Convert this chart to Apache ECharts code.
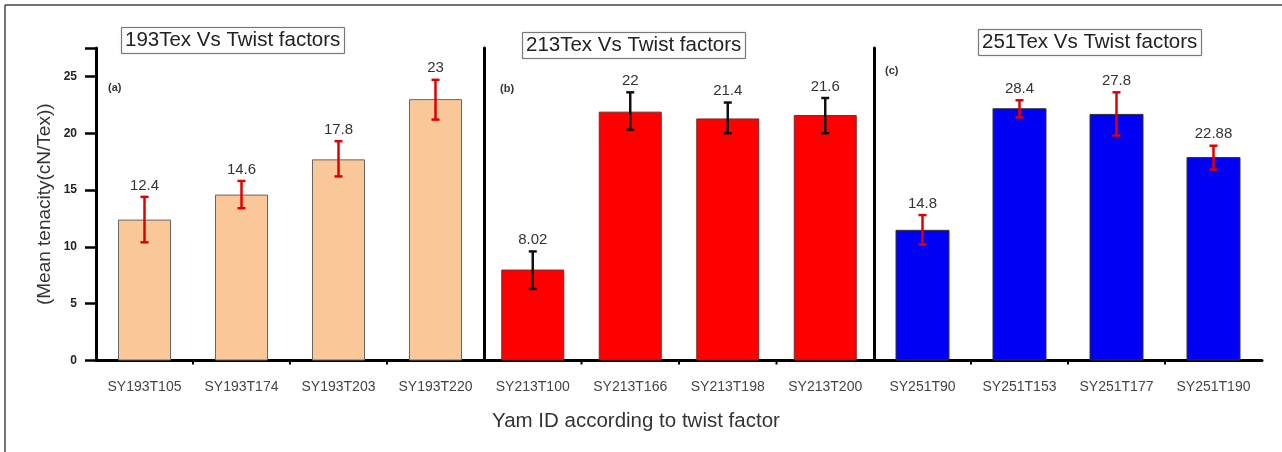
<!DOCTYPE html>
<html>
<head>
<meta charset="utf-8">
<script src="https://cdn.jsdelivr.net/npm/echarts@6/dist/echarts.min.js"></script>
<style>
html,body{margin:0;padding:0;background:#fff;}
#chart{width:1282px;height:452px;}
</style>
</head>
<body>
<div id="chart"></div>
<script>
// ---- data ----
const catsA = ['SY193T105','SY193T174','SY193T203','SY193T220'];
const catsB = ['SY213T100','SY213T166','SY213T198','SY213T200'];
const catsC = ['SY251T90','SY251T153','SY251T177','SY251T190'];
const valsA = [12.4, 14.6, 17.7, 23.0];
const valsB = [8.0, 21.9, 21.3, 21.6];
const valsC = [11.5, 22.2, 21.7, 17.9];
const errLowA = [10.4, 13.4, 16.2, 21.2];
const errHighA = [14.4, 15.8, 19.3, 24.7];
const errLowB = [6.3, 20.3, 20.0, 20.0];
const errHighB = [9.6, 23.6, 22.7, 23.1];
const errLowC = [10.2, 21.4, 19.8, 16.8];
const errHighC = [12.8, 22.9, 23.6, 18.9];
const labelsA = ['12.4','14.6','17.8','23'];
const labelsB = ['8.02','22','21.4','21.6'];
const labelsC = ['14.8','28.4','27.8','22.88'];
const titles = ['193Tex Vs Twist factors','213Tex Vs Twist factors','251Tex Vs Twist factors'];
const yTicks = [0,5,10,15,20,25];

const chart = echarts.init(document.getElementById('chart'), null, {renderer:'canvas'});
const FONT = '"Liberation Sans", Arial, sans-serif';

function errSeries(idx, lows, highs, labels, color){
  return {
    type:'custom', xAxisIndex:idx, yAxisIndex:idx, z:10,
    data: lows.map((l,i)=>[i,l,highs[i]]),
    renderItem:function(params, api){
      const x = api.value(0);
      const lo = api.coord([x, api.value(1)]);
      const hi = api.coord([x, api.value(2)]);
      const cw = 4;
      const st = {stroke:color, lineWidth:2.5};
      return {type:'group', children:[
        {type:'line', shape:{x1:lo[0],y1:lo[1],x2:hi[0],y2:hi[1]}, style:st},
        {type:'line', shape:{x1:lo[0]-cw,y1:lo[1],x2:lo[0]+cw,y2:lo[1]}, style:st},
        {type:'line', shape:{x1:hi[0]-cw,y1:hi[1],x2:hi[0]+cw,y2:hi[1]}, style:st},
        {type:'text', x:hi[0], y:hi[1]-4, style:{text:labels[params.dataIndex], fill:'#333', font:'15px '+FONT, align:'center', verticalAlign:'bottom'}}
      ]};
    },
    encode:{x:0,y:[1,2]}
  };
}

// tiny boundary ticks between categories
function boundarySeries(idx, n){
  return {
    type:'custom', xAxisIndex:idx, yAxisIndex:idx, z:5, silent:true,
    data: Array.from({length:n-1}, (_,i)=>[i]),
    renderItem:function(params, api){
      const c0 = api.coord([api.value(0), 0]);
      const c1 = api.coord([api.value(0)+1, 0]);
      const xm = (c0[0]+c1[0])/2;
      return {type:'line', shape:{x1:xm,y1:c0[1],x2:xm,y2:c0[1]+4}, style:{stroke:'#000', lineWidth:2}};
    },
    encode:{x:0}
  };
}

const grids = [
  {left:96, width:388, top:48, bottom:91.5},
  {left:484, width:390, top:48, bottom:91.5},
  {left:874, width:388, top:48, bottom:91.5}
];
const cats = [catsA, catsB, catsC];

const xAxes = cats.map((c,i)=>({
  type:'category', gridIndex:i, data:c,
  axisLine:{lineStyle:{color:'#000', width:3}},
  axisTick:{alignWithLabel:true, length:8, lineStyle:{color:'#000', width:3}},
  axisLabel:{color:'#444', fontSize:14, fontFamily:FONT, margin:20, interval:0}
}));
const yAxes = [0,1,2].map(i=>({
  type:'value', gridIndex:i, min:0, max:27.5, interval:5,
  splitLine:{show:false},
  axisLine:{show:true, lineStyle:{color:'#000', width:3}},
  axisTick:{show:i===0, length:11, lineStyle:{color:'#000', width:2.5}},
  axisLabel:{show:i===0, color:'#222', fontSize:12, fontWeight:'bold', fontFamily:FONT, margin:19,
    formatter:v=> yTicks.indexOf(v)>=0 ? String(v) : ''},
  name: i===0 ? '(Mean tenacity(cN/Tex))' : '',
  nameLocation:'middle', nameGap:42,
  nameTextStyle:{color:'#333', fontSize:19, fontFamily:FONT}
}));

const option = {
  animation:false,
  backgroundColor:'#fff',
  grid: grids,
  xAxis: xAxes,
  yAxis: yAxes,
  title: [
    {text:titles[0], left:121, top:27},
    {text:titles[1], left:522, top:32},
    {text:titles[2], left:978, top:29}
  ].map(t=>Object.assign(t,{borderColor:'#777', borderWidth:1, padding:[3,4],
     shadowColor:'rgba(0,0,0,0.25)', shadowBlur:2,
     textStyle:{color:'#222', fontSize:20.5, fontWeight:'normal', fontFamily:FONT}})),
  series: [
    {type:'bar', xAxisIndex:0, yAxisIndex:0, data:valsA, barWidth:53,
      itemStyle:{color:'#FAC898', borderColor:'#666', borderWidth:1}},
    {type:'bar', xAxisIndex:1, yAxisIndex:1, data:valsB, barWidth:63,
      itemStyle:{color:'#FF0000', borderColor:'#7a2a2a', borderWidth:1}},
    {type:'bar', xAxisIndex:2, yAxisIndex:2, data:valsC, barWidth:54,
      itemStyle:{color:'#0000F5', borderColor:'#333', borderWidth:1}},
    errSeries(0, errLowA, errHighA, labelsA, '#E00000'),
    errSeries(1, errLowB, errHighB, labelsB, '#111'),
    errSeries(2, errLowC, errHighC, labelsC, '#E00000'),
    boundarySeries(0, 4), boundarySeries(1, 4), boundarySeries(2, 4)
  ],
  graphic: [
    {type:'line', shape:{x1:5,y1:5,x2:1282,y2:5}, style:{stroke:'#444', lineWidth:1.5}},
    {type:'line', shape:{x1:5,y1:5,x2:5,y2:452}, style:{stroke:'#444', lineWidth:1.5}},
    {type:'text', left:108, top:82, style:{text:'(a)', fill:'#333', font:'bold 11px '+FONT}},
    {type:'text', left:500, top:83, style:{text:'(b)', fill:'#333', font:'bold 11px '+FONT}},
    {type:'text', left:885, top:65, style:{text:'(c)', fill:'#333', font:'bold 11px '+FONT}},
    {type:'text', left:492, top:411, style:{text:'Yam ID according to twist factor', fill:'#333', font:'20.5px '+FONT}}
  ]
};
chart.setOption(option);
</script>
</body>
</html>
